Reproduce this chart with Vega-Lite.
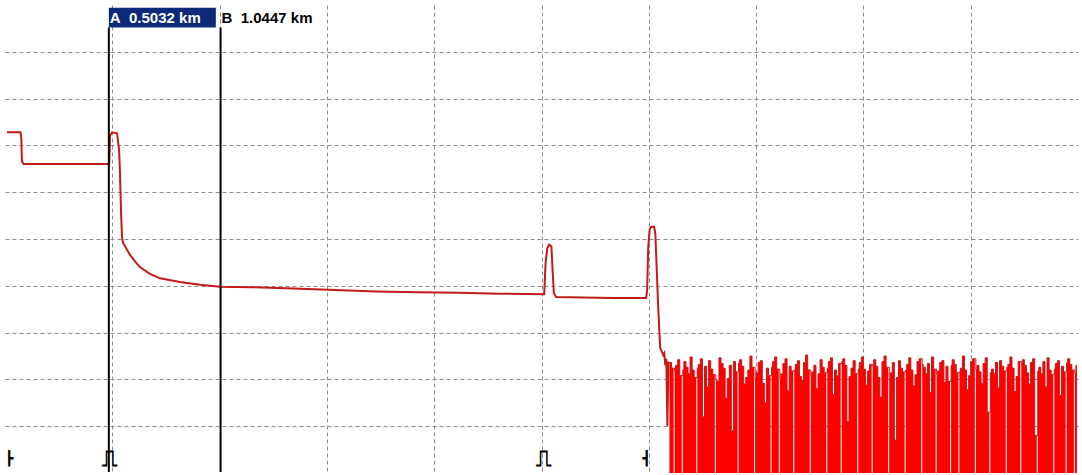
{
  "$schema": "https://vega.github.io/schema/vega-lite/v6.json",
  "width": 1073,
  "height": 468,
  "autosize": {"type": "none"},
  "padding": {"left": 5, "top": 5, "right": 4, "bottom": 2},
  "background": "white",
  "config": {"view": {"stroke": null}},
  "datasets": {
    "trace": [
      {"km": 0.01, "dB": 36.4}, {"km": 0.075, "dB": 36.4}, {"km": 0.079, "dB": 35.8}, {"km": 0.082, "dB": 33.3}, {"km": 0.09, "dB": 33.0},
      {"km": 0.3, "dB": 33.0}, {"km": 0.505, "dB": 33.0}, {"km": 0.509, "dB": 36.0}, {"km": 0.519, "dB": 36.4}, {"km": 0.543, "dB": 36.3},
      {"km": 0.553, "dB": 34.5}, {"km": 0.557, "dB": 32.2}, {"km": 0.562, "dB": 28.1}, {"km": 0.567, "dB": 25.2}, {"km": 0.572, "dB": 24.6},
      {"km": 0.59, "dB": 23.9}, {"km": 0.606, "dB": 23.3}, {"km": 0.63, "dB": 22.6}, {"km": 0.654, "dB": 22.0}, {"km": 0.7, "dB": 21.3},
      {"km": 0.751, "dB": 20.8}, {"km": 0.848, "dB": 20.4}, {"km": 0.945, "dB": 20.1}, {"km": 1.042, "dB": 19.9}, {"km": 1.2, "dB": 19.85},
      {"km": 1.4, "dB": 19.7}, {"km": 1.6, "dB": 19.55}, {"km": 1.8, "dB": 19.4}, {"km": 2.0, "dB": 19.3}, {"km": 2.2, "dB": 19.25},
      {"km": 2.4, "dB": 19.15}, {"km": 2.613, "dB": 19.1}, {"km": 2.62, "dB": 22.5}, {"km": 2.628, "dB": 24.0}, {"km": 2.637, "dB": 24.4},
      {"km": 2.648, "dB": 24.2}, {"km": 2.654, "dB": 21.5}, {"km": 2.66, "dB": 19.2}, {"km": 2.671, "dB": 18.8}, {"km": 2.8, "dB": 18.75},
      {"km": 2.95, "dB": 18.7}, {"km": 3.107, "dB": 18.7}, {"km": 3.112, "dB": 19.5}, {"km": 3.117, "dB": 24.0}, {"km": 3.124, "dB": 26.0},
      {"km": 3.131, "dB": 26.3}, {"km": 3.146, "dB": 26.3}, {"km": 3.152, "dB": 25.5}, {"km": 3.158, "dB": 22.0}, {"km": 3.165, "dB": 18.0},
      {"km": 3.175, "dB": 13.4}, {"km": 3.18, "dB": 13.1}, {"km": 3.185, "dB": 12.9}, {"km": 3.19, "dB": 12.6}, {"km": 3.195, "dB": 12.8},
      {"km": 3.2, "dB": 11.5}, {"km": 3.205, "dB": 12.2}, {"km": 3.21, "dB": 5.0}, {"km": 3.215, "dB": 11.8}, {"km": 3.22, "dB": 11.8}
    ],
    "noise": [
      {"km": 3.22, "dB": 11.8}, {"km": 3.23, "dB": 11.2}, {"km": 3.24, "dB": 0}, {"km": 3.245, "dB": 10.9}, {"km": 3.25, "dB": 11.5}, {"km": 3.26, "dB": 12.1}, {"km": 3.27, "dB": 10.4}, {"km": 3.28, "dB": 0}, {"km": 3.285, "dB": 11.0}, {"km": 3.29, "dB": 11.9}, {"km": 3.3, "dB": 11.3}, {"km": 3.31, "dB": 10.6},
      {"km": 3.32, "dB": 12.4}, {"km": 3.33, "dB": 11.0}, {"km": 3.34, "dB": 10.2}, {"km": 3.35, "dB": 0}, {"km": 3.355, "dB": 11.2}, {"km": 3.36, "dB": 11.6}, {"km": 3.37, "dB": 12.2}, {"km": 3.38, "dB": 6.0}, {"km": 3.39, "dB": 11.4}, {"km": 3.4, "dB": 9.2}, {"km": 3.41, "dB": 12.0},
      {"km": 3.42, "dB": 11.1}, {"km": 3.43, "dB": 10.5}, {"km": 3.44, "dB": 0}, {"km": 3.445, "dB": 10.0}, {"km": 3.45, "dB": 9.8}, {"km": 3.46, "dB": 12.3}, {"km": 3.47, "dB": 11.7}, {"km": 3.48, "dB": 11.2}, {"km": 3.49, "dB": 8.0}, {"km": 3.5, "dB": 10.1}, {"km": 3.51, "dB": 11.5},
      {"km": 3.52, "dB": 4.5}, {"km": 3.53, "dB": 11.9}, {"km": 3.54, "dB": 10.8}, {"km": 3.55, "dB": 0}, {"km": 3.555, "dB": 11.7}, {"km": 3.56, "dB": 12.1}, {"km": 3.57, "dB": 11.4}, {"km": 3.58, "dB": 9.5}, {"km": 3.59, "dB": 10.2}, {"km": 3.6, "dB": 11.0}, {"km": 3.61, "dB": 12.5},
      {"km": 3.62, "dB": 11.3}, {"km": 3.63, "dB": 0}, {"km": 3.635, "dB": 10.1}, {"km": 3.64, "dB": 10.7}, {"km": 3.65, "dB": 11.8}, {"km": 3.66, "dB": 12.0}, {"km": 3.67, "dB": 9.6}, {"km": 3.68, "dB": 7.5}, {"km": 3.69, "dB": 11.2}, {"km": 3.7, "dB": 10.4}, {"km": 3.71, "dB": 0}, {"km": 3.715, "dB": 11.3},
      {"km": 3.72, "dB": 11.9}, {"km": 3.73, "dB": 12.4}, {"km": 3.74, "dB": 11.1}, {"km": 3.75, "dB": 0}, {"km": 3.755, "dB": 10.2}, {"km": 3.76, "dB": 10.6}, {"km": 3.77, "dB": 11.7}, {"km": 3.78, "dB": 12.2}, {"km": 3.79, "dB": 8.8}, {"km": 3.8, "dB": 11.4}, {"km": 3.81, "dB": 10.9},
      {"km": 3.82, "dB": 0}, {"km": 3.825, "dB": 11.0}, {"km": 3.83, "dB": 11.6}, {"km": 3.84, "dB": 12.0}, {"km": 3.85, "dB": 10.3}, {"km": 3.86, "dB": 9.9}, {"km": 3.87, "dB": 11.8}, {"km": 3.88, "dB": 12.6}, {"km": 3.89, "dB": 11.0}, {"km": 3.9, "dB": 0}, {"km": 3.905, "dB": 10.4}, {"km": 3.91, "dB": 10.8},
      {"km": 3.92, "dB": 11.5}, {"km": 3.93, "dB": 9.0}, {"km": 3.94, "dB": 10.6}, {"km": 3.95, "dB": 12.1}, {"km": 3.96, "dB": 11.3}, {"km": 3.97, "dB": 10.7}, {"km": 3.98, "dB": 0}, {"km": 3.985, "dB": 11.2}, {"km": 3.99, "dB": 11.9}, {"km": 4.0, "dB": 12.3}, {"km": 4.01, "dB": 8.4},
      {"km": 4.02, "dB": 11.0}, {"km": 4.03, "dB": 10.4}, {"km": 4.04, "dB": 11.7}, {"km": 4.05, "dB": 0}, {"km": 4.055, "dB": 11.9}, {"km": 4.06, "dB": 12.2}, {"km": 4.07, "dB": 11.5}, {"km": 4.08, "dB": 5.5}, {"km": 4.09, "dB": 10.3}, {"km": 4.1, "dB": 11.2}, {"km": 4.11, "dB": 12.0},
      {"km": 4.12, "dB": 10.6}, {"km": 4.13, "dB": 0}, {"km": 4.135, "dB": 11.1}, {"km": 4.14, "dB": 11.8}, {"km": 4.15, "dB": 12.4}, {"km": 4.16, "dB": 11.1}, {"km": 4.17, "dB": 9.4}, {"km": 4.18, "dB": 10.9}, {"km": 4.19, "dB": 11.6}, {"km": 4.2, "dB": 0}, {"km": 4.205, "dB": 11.4}, {"km": 4.21, "dB": 12.1},
      {"km": 4.22, "dB": 11.4}, {"km": 4.23, "dB": 10.2}, {"km": 4.24, "dB": 8.1}, {"km": 4.25, "dB": 11.9}, {"km": 4.26, "dB": 12.5}, {"km": 4.27, "dB": 11.3}, {"km": 4.28, "dB": 0}, {"km": 4.285, "dB": 10.1}, {"km": 4.29, "dB": 10.7}, {"km": 4.3, "dB": 11.8}, {"km": 4.31, "dB": 3.5},
      {"km": 4.32, "dB": 10.2}, {"km": 4.33, "dB": 12.0}, {"km": 4.34, "dB": 11.2}, {"km": 4.35, "dB": 10.8}, {"km": 4.36, "dB": 0}, {"km": 4.365, "dB": 11.0}, {"km": 4.37, "dB": 11.6}, {"km": 4.38, "dB": 12.3}, {"km": 4.39, "dB": 11.0}, {"km": 4.4, "dB": 9.3}, {"km": 4.41, "dB": 10.5},
      {"km": 4.42, "dB": 11.9}, {"km": 4.43, "dB": 12.2}, {"km": 4.44, "dB": 0}, {"km": 4.445, "dB": 11.6}, {"km": 4.45, "dB": 11.3}, {"km": 4.46, "dB": 10.6}, {"km": 4.47, "dB": 11.7}, {"km": 4.48, "dB": 8.6}, {"km": 4.49, "dB": 12.4}, {"km": 4.5, "dB": 11.1}, {"km": 4.51, "dB": 0}, {"km": 4.515, "dB": 10.5},
      {"km": 4.52, "dB": 10.9}, {"km": 4.53, "dB": 11.8}, {"km": 4.54, "dB": 12.0}, {"km": 4.55, "dB": 9.7}, {"km": 4.56, "dB": 11.4}, {"km": 4.57, "dB": 9.8}, {"km": 4.58, "dB": 0}, {"km": 4.585, "dB": 11.5}, {"km": 4.59, "dB": 12.1}, {"km": 4.6, "dB": 11.6}, {"km": 4.61, "dB": 10.7},
      {"km": 4.62, "dB": 0}, {"km": 4.625, "dB": 10.8}, {"km": 4.63, "dB": 11.2}, {"km": 4.64, "dB": 12.5}, {"km": 4.65, "dB": 11.0}, {"km": 4.66, "dB": 8.9}, {"km": 4.67, "dB": 10.4}, {"km": 4.68, "dB": 11.9}, {"km": 4.69, "dB": 12.2}, {"km": 4.7, "dB": 0}, {"km": 4.705, "dB": 11.0}, {"km": 4.71, "dB": 11.5},
      {"km": 4.72, "dB": 10.8}, {"km": 4.73, "dB": 9.6}, {"km": 4.74, "dB": 11.7}, {"km": 4.75, "dB": 12.3}, {"km": 4.76, "dB": 6.5}, {"km": 4.77, "dB": 0}, {"km": 4.775, "dB": 10.7}, {"km": 4.78, "dB": 11.1}, {"km": 4.79, "dB": 10.6}, {"km": 4.8, "dB": 11.8}, {"km": 4.81, "dB": 9.1},
      {"km": 4.82, "dB": 12.0}, {"km": 4.83, "dB": 11.4}, {"km": 4.84, "dB": 10.9}, {"km": 4.85, "dB": 0}, {"km": 4.855, "dB": 11.3}, {"km": 4.86, "dB": 11.6}, {"km": 4.87, "dB": 12.4}, {"km": 4.88, "dB": 11.2}, {"km": 4.89, "dB": 8.7}, {"km": 4.9, "dB": 10.3}, {"km": 4.91, "dB": 11.9},
      {"km": 4.92, "dB": 0}, {"km": 4.925, "dB": 11.7}, {"km": 4.93, "dB": 12.1}, {"km": 4.94, "dB": 11.5}, {"km": 4.95, "dB": 10.7}, {"km": 4.96, "dB": 9.5}, {"km": 4.97, "dB": 11.8}, {"km": 4.98, "dB": 12.2}, {"km": 4.99, "dB": 4.0}, {"km": 5.0, "dB": 0}, {"km": 5.005, "dB": 10.9}, {"km": 5.01, "dB": 11.3},
      {"km": 5.02, "dB": 10.6}, {"km": 5.03, "dB": 11.9}, {"km": 5.04, "dB": 9.2}, {"km": 5.05, "dB": 12.3}, {"km": 5.06, "dB": 11.0}, {"km": 5.07, "dB": 10.5}, {"km": 5.08, "dB": 0}, {"km": 5.085, "dB": 11.1}, {"km": 5.09, "dB": 11.7}, {"km": 5.1, "dB": 12.0}, {"km": 5.11, "dB": 8.3},
      {"km": 5.12, "dB": 11.4}, {"km": 5.13, "dB": 10.8}, {"km": 5.14, "dB": 0}, {"km": 5.145, "dB": 11.8}, {"km": 5.15, "dB": 12.2}, {"km": 5.16, "dB": 11.6}, {"km": 5.17, "dB": 11.0}, {"km": 5.18, "dB": 0}, {"km": 5.185, "dB": 10.6}, {"km": 5.19, "dB": 11.5}, {"km": 5.195, "dB": 0}
    ],
    "cursors": [
      {"cursor": "A", "km": 0.5032, "label": "A\u00a0\u00a00.5032\u00a0km", "active": true},
      {"cursor": "B", "km": 1.0447, "label": "B\u00a0\u00a01.0447\u00a0km", "active": false}
    ],
    "events": [
      {"km": 0.02, "glyph": "┣"},
      {"km": 0.505, "glyph": "⎍"},
      {"km": 2.612, "glyph": "⎍"},
      {"km": 3.11, "glyph": "┫"}
    ]
  },
  "layer": [
    {
      "data": {"name": "noise"},
      "mark": {"type": "area", "interpolate": "step-after", "color": "#ff0000", "clip": true},
      "encoding": {
        "x": {"field": "km", "type": "quantitative", "scale": {"domain": [0, 5.2], "nice": false},
          "axis": {"labels": false, "ticks": false, "domain": false, "title": null, "grid": true,
            "values": [0.52, 1.04, 1.56, 2.08, 2.6, 3.12, 3.64, 4.16, 4.68],
            "gridColor": "#8c8c8c", "gridDash": [4, 3], "gridWidth": 1}},
        "y": {"field": "dB", "type": "quantitative", "scale": {"domain": [0, 50], "nice": false},
          "axis": {"labels": false, "ticks": false, "domain": false, "title": null, "grid": true,
            "values": [5, 10, 15, 20, 25, 30, 35, 40, 45],
            "gridColor": "#8c8c8c", "gridDash": [4, 3], "gridWidth": 1}}
      }
    },
    {
      "data": {"name": "noise"},
      "transform": [{"filter": "datum.dB > 0"}],
      "mark": {"type": "line", "interpolate": "step-after", "color": "#c41a1a", "strokeWidth": 1},
      "encoding": {
        "x": {"field": "km", "type": "quantitative"},
        "y": {"field": "dB", "type": "quantitative"}
      }
    },
    {
      "data": {"name": "trace"},
      "mark": {"type": "line", "color": "#c41a1a", "strokeWidth": 2},
      "encoding": {
        "x": {"field": "km", "type": "quantitative"},
        "y": {"field": "dB", "type": "quantitative"}
      }
    },
    {
      "data": {"name": "cursors"},
      "mark": {"type": "rule", "color": "black", "strokeWidth": 2},
      "encoding": {
        "x": {"field": "km", "type": "quantitative"},
        "y": {"datum": 47.6},
        "y2": {"datum": 0.1}
      }
    },
    {
      "data": {"name": "cursors"},
      "transform": [{"filter": "datum.active"}],
      "mark": {"type": "rect", "color": "#0c2a78", "x2Offset": 107},
      "encoding": {
        "x": {"field": "km", "type": "quantitative"},
        "x2": {"field": "km"},
        "y": {"datum": 49.7},
        "y2": {"datum": 47.6}
      }
    },
    {
      "data": {"name": "cursors"},
      "mark": {"type": "text", "align": "left", "baseline": "middle", "dx": 1, "dy": 1, "font": "Liberation Sans", "fontSize": 15, "fontWeight": "bold"},
      "encoding": {
        "x": {"field": "km", "type": "quantitative"},
        "y": {"datum": 48.7},
        "text": {"field": "label"},
        "color": {"condition": {"test": "datum.active", "value": "white"}, "value": "black"}
      }
    },
    {
      "data": {"name": "events"},
      "mark": {"type": "text", "align": "center", "baseline": "middle", "font": "DejaVu Sans", "fontWeight": "bold", "color": "black"},
      "encoding": {
        "x": {"field": "km", "type": "quantitative"},
        "y": {"datum": 1.5},
        "text": {"field": "glyph"},
        "size": {"condition": {"test": "datum.glyph == '⎍'", "value": 22}, "value": 14}
      }
    }
  ]
}
